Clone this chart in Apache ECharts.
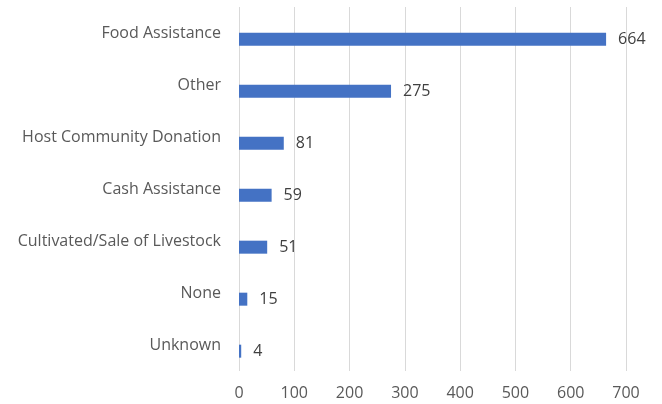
<!DOCTYPE html>
<html>
<head>
<meta charset="utf-8">
<script src="https://cdn.jsdelivr.net/npm/echarts@6/dist/echarts.min.js"></script>
<style>
  html, body { margin: 0; padding: 0; background: #fff; }
  #chart { width: 662px; height: 404px; }
</style>
</head>
<body>
<div id="chart"></div>
<script>
// data, top to bottom
var categories = ['Food Assistance', 'Other', 'Host Community Donation', 'Cash Assistance',
    'Cultivated/Sale of Livestock', 'None', 'Unknown'];
var counts = [664, 275, 81, 59, 51, 15, 4];
var xTicks = [0, 100, 200, 300, 400, 500, 600, 700];

var textColor = '#595959';
var font = 'Open Sans';

var myChart = echarts.init(document.getElementById('chart'));
var option = {
    animation: false,
    grid: { left: 239, right: 36, top: 7, bottom: 33 },
    xAxis: {
        type: 'value',
        min: xTicks[0],
        max: xTicks[xTicks.length - 1],
        interval: xTicks[1] - xTicks[0],
        axisLine: { show: false },
        axisTick: { show: false },
        splitLine: { show: true, lineStyle: { color: '#d9d9d9', width: 1 } },
        axisLabel: { color: textColor, fontFamily: font, fontSize: 16, margin: 14 }
    },
    yAxis: {
        type: 'category',
        inverse: true,
        data: categories,
        axisLine: { show: false },
        axisTick: { show: false },
        splitLine: { show: false },
        axisLabel: { color: textColor, fontFamily: font, fontSize: 16, margin: 18 }
    },
    series: [
        {
            // empty slot, Excel-style offset of the bar within its band
            name: 'spacer',
            type: 'bar',
            barWidth: 13,
            data: []
        },
        {
            name: 'Count',
            type: 'bar',
            barWidth: 13,
            barGap: '-5%',
            itemStyle: { color: '#4472c4' },
            label: {
                show: true,
                position: 'right',
                distance: 12,
                color: '#404040',
                fontFamily: font,
                fontSize: 16
            },
            data: counts
        }
    ]
};
myChart.setOption(option);
</script>
</body>
</html>
